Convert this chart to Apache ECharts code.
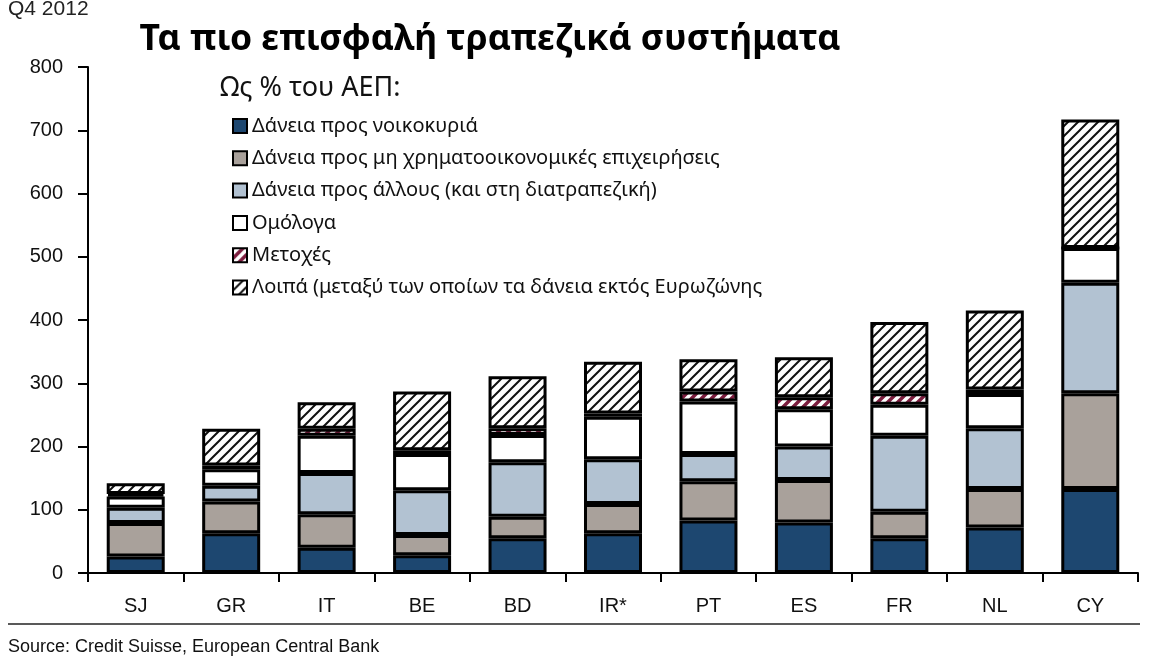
<!DOCTYPE html>
<html>
<head>
<meta charset="utf-8">
<script src="https://cdn.jsdelivr.net/npm/echarts@6/dist/echarts.min.js"></script>
<style>html,body{margin:0;padding:0;background:#fff}#c{width:1168px;height:656px}</style>
</head>
<body>
<div id="c"></div>
<script>
const categories = ['SJ','GR','IT','BE','BD','IR*','PT','ES','FR','NL','CY'];
const households   = [26, 63, 40, 28, 55, 63, 83, 80, 55, 72, 133];
const nonFinancial = [53, 50, 53, 32, 34, 46, 62, 67, 42, 61, 151];
const otherLoans   = [24, 25, 65, 71, 86, 71, 43, 53, 120, 96, 175];
const bonds        = [18, 26, 59, 57, 43, 67, 83, 59, 49, 54, 55];
const equities     = [4, 6, 11, 6, 11, 5, 16, 19, 18, 7, 0];
const rest         = [17, 58, 42, 93, 82, 82, 51, 63, 113, 125, 203];
const seriesNames = [
  'Δάνεια προς νοικοκυριά',
  'Δάνεια προς μη χρηματοοικονομικές επιχειρήσεις',
  'Δάνεια προς άλλους (και στη διατραπεζική)',
  'Ομόλογα',
  'Μετοχές',
  'Λοιπά (μεταξύ των οποίων τα δάνεια εκτός Ευρωζώνης'
];
const yTicks = [0,100,200,300,400,500,600,700,800];

function stripe(fg, bg, w) {
  const s = 10;
  const c = document.createElement('canvas');
  c.width = s; c.height = s;
  const g = c.getContext('2d');
  g.fillStyle = bg; g.fillRect(0,0,s,s);
  g.strokeStyle = fg; g.lineWidth = w;
  g.beginPath();
  g.moveTo(-2, s+2); g.lineTo(s+2, -2);
  g.moveTo(-2, 2); g.lineTo(2, -2);
  g.moveTo(s-2, s+2); g.lineTo(s+2, s-2);
  g.stroke();
  return c;
}
const hatch = stripe('#111', '#fff', 2.0);
const redStripe = stripe('#7d1d3f', '#fff', 3.5);

const fills = ['#1d4770', '#a9a19b', '#b2c2d2', '#ffffff',
  {image: redStripe, repeat: 'repeat'}, {image: hatch, repeat: 'repeat'}];
const dataSets = [households, nonFinancial, otherLoans, bonds, equities, rest];

const chart = echarts.init(document.getElementById('c'));
const axisFont = {fontFamily: 'Liberation Sans, Arial, sans-serif', fontSize: 20, color: '#111'};
chart.setOption({
  animation: false,
  backgroundColor: '#fff',
  title: [
    {text: 'Τα πιο επισφαλή τραπεζικά συστήματα', left: 485, textAlign: 'center', top: 17,
     textStyle: {fontFamily: 'Noto Sans', fontWeight: 'bold', fontSize: 35.5, color: '#000'}},
    {text: 'Q4 2012', left: 3, top: -6,
     textStyle: {fontFamily: 'Liberation Sans, Arial', fontWeight: 'normal', fontSize: 21, color: '#222'}},
    {text: 'Ως % του ΑΕΠ:', left: 215, top: 70,
     textStyle: {fontFamily: 'Noto Sans', fontWeight: 'normal', fontSize: 27, color: '#111'}},
    {text: 'Source: Credit Suisse, European Central Bank', left: 3, top: 633,
     textStyle: {fontFamily: 'Liberation Sans, Arial', fontWeight: 'normal', fontSize: 18, color: '#111'}}
  ],
  graphic: [{type: 'line', shape: {x1: 8, y1: 624, x2: 1140, y2: 624}, style: {stroke: '#222', lineWidth: 1.5}}],
  legend: {
    orient: 'vertical', left: 227, top: 111, itemGap: 12.3, itemWidth: 14, itemHeight: 14,
    icon: 'rect',
    textStyle: {fontFamily: 'Noto Sans', fontSize: 20, color: '#111', lineHeight: 20},
    data: seriesNames
  },
  grid: {left: 88, right: 30, top: 67, bottom: 83, containLabel: false},
  xAxis: {
    type: 'category', data: categories,
    axisLine: {lineStyle: {color: '#000', width: 2}},
    axisTick: {show: true, length: 9, lineStyle: {color: '#000', width: 2}},
    axisLabel: Object.assign({margin: 23}, axisFont)
  },
  yAxis: {
    type: 'value', min: 0, max: 800, interval: 100,
    axisLine: {show: true, lineStyle: {color: '#000', width: 2}},
    axisTick: {show: true, length: 10, lineStyle: {color: '#000', width: 2}},
    splitLine: {show: false},
    axisLabel: Object.assign({margin: 25, formatter: v => yTicks.includes(v) ? String(v) : ''}, axisFont)
  },
  series: dataSets.map((d, i) => ({
    name: seriesNames[i], type: 'bar', stack: 'total', barWidth: 58,
    data: d,
    itemStyle: {color: fills[i], borderColor: '#000', borderWidth: 3},
    emphasis: {disabled: true}
  }))
});
</script>
</body>
</html>
